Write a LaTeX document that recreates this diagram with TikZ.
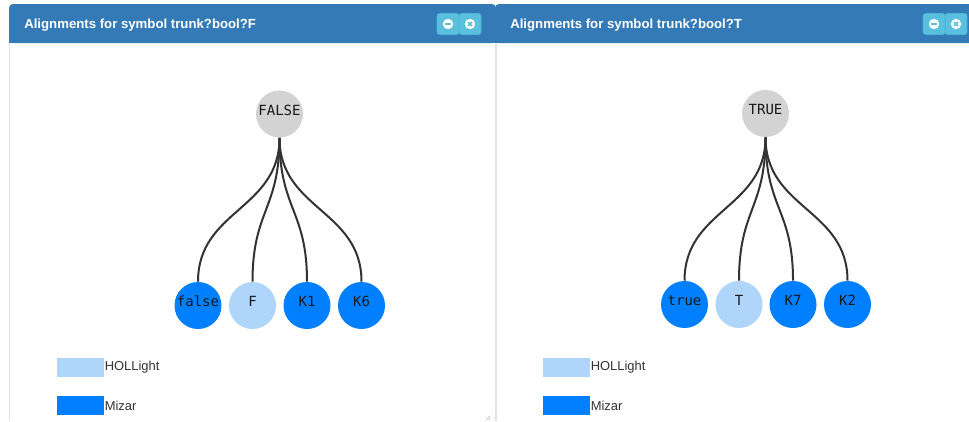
\documentclass[tikz,border=0pt]{standalone}
\usepackage{fontspec}
\setmainfont{Liberation Sans}
\setmonofont{DejaVu Sans Mono}
\usetikzlibrary{calc}
\definecolor{headblue}{HTML}{337AB7}
\definecolor{btnblue}{HTML}{5BC0DE}
\definecolor{btnedge}{HTML}{46B8DA}
\definecolor{mizar}{HTML}{0080FF}
\definecolor{hollight}{HTML}{B0D5FA}
\definecolor{symgrey}{HTML}{D3D3D3}
\definecolor{edgegrey}{HTML}{333333}
\definecolor{panelline}{HTML}{E2E2E2}
\tikzset{
  symnode/.style   = {circle, inner sep=0pt, minimum size=35.25pt,
                      font=\fontsize{10.5}{12}\selectfont\ttfamily,
                      text height=7.6pt, text depth=6pt, text=black!90},
  concept/.style   = {symnode, fill=symgrey},
  mizarsym/.style  = {symnode, fill=mizar},
  holsym/.style    = {symnode, fill=hollight},
  link/.style      = {draw=edgegrey, line width=1.5pt},
  titletext/.style = {anchor=base west, inner sep=0pt, text=white,
                      font=\fontsize{9.9}{12}\selectfont\bfseries},
  legendtext/.style= {anchor=west, inner sep=0pt, text=black!80,
                      font=\fontsize{9.7}{12}\selectfont},
  btn/.style       = {fill=btnblue, draw=btnedge, line width=0.5pt,
                      rounded corners=2pt},
}
\begin{document}
\begin{tikzpicture}[x=0.75pt, y=-0.75pt]
  \useasboundingbox[fill=white] (0,0) rectangle (969,421);
  \clip (0,0) rectangle (969,421);

  % Two panels, side by side (right one is cut off)
  \foreach \dx/\ttl in {0/F, 486/T}{
    % header bar
    \fill[headblue, rounded corners=3pt] (9+\dx,4) rectangle (496+\dx,43);
    \fill[headblue] (9+\dx,30) rectangle (496+\dx,43);
    \node[titletext] (title\ttl) at (24+\dx,28)
      {Alignments for symbol trunk?bool?\ttl};

    % minimise / close buttons
    \draw[btn] (437+\dx,13.5) rectangle (459+\dx,34.5);
    \draw[btn] (459+\dx,13.5) rectangle (481+\dx,34.5);
    \fill[white] (448+\dx,24) circle (3.9pt);
    \fill[white] (470+\dx,24) circle (3.9pt);
    \draw[btnblue, line width=1.4pt] (445.3+\dx,24) -- (450.7+\dx,24);
    \draw[btnblue, line width=1.1pt] (468+\dx,22) -- (472+\dx,26)
                                     (468+\dx,26) -- (472+\dx,22);

    % panel body borders
    \draw[panelline, line width=0.75pt] (9+\dx,43) -- (9+\dx,421)
                                        (496+\dx,43) -- (496+\dx,421);

    % legend
    \fill[hollight] (57+\dx,358) rectangle (104+\dx,377);
    \node[legendtext] (holkey\ttl) at (104.5+\dx,367.5) {HOLLight};
    \fill[mizar] (57+\dx,396) rectangle (104+\dx,415);
    \node[legendtext] (mizkey\ttl) at (104.5+\dx,405.5) {Mizar};
  }

  % resize grip of left panel
  \draw[gray!60, line width=0.4pt] (486,420) -- (490,416) (488.5,420) -- (490,418.5);

  % FALSE and its aligned symbols
  \node[concept] (F-root) at (279.5,114) {FALSE};
  \foreach \n/\x/\s in {false/198/mizarsym, F/252.5/holsym,
                        K1/307/mizarsym, K6/361.5/mizarsym}{
    \node[\s] (F-\n) at (\x,305.5) {\n};
    \coordinate (mid) at ($(F-root.south)!.5!(F-\n.north)$);
    \draw[link] (F-root.south) .. controls (F-root.south |- mid)
      and (F-\n.north |- mid) .. (F-\n.north);
  }

  % TRUE and its aligned symbols
  \node[concept] (T-root) at (765.5,113.5) {TRUE};
  \foreach \n/\x/\s in {true/684.5/mizarsym, T/739/holsym,
                        K7/793/mizarsym, K2/847.5/mizarsym}{
    \node[\s] (T-\n) at (\x,304.5) {\n};
    \coordinate (mid) at ($(T-root.south)!.5!(T-\n.north)$);
    \draw[link] (T-root.south) .. controls (T-root.south |- mid)
      and (T-\n.north |- mid) .. (T-\n.north);
  }
\end{tikzpicture}
\end{document}
